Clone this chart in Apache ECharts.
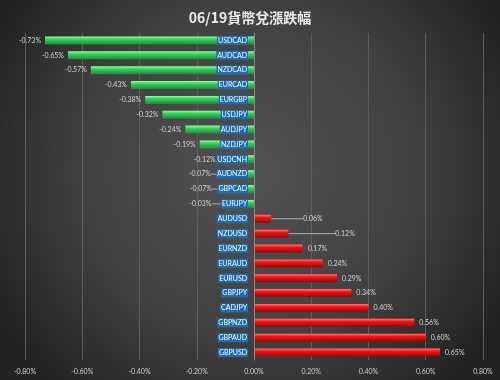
<!DOCTYPE html>
<html>
<head>
<meta charset="utf-8">
<script src="https://cdn.jsdelivr.net/npm/echarts@6/dist/echarts.min.js"></script>
<style>
html,body{margin:0;padding:0;background:#333;}
#chart{width:500px;height:380px;}
</style>
</head>
<body>
<div id="chart"></div>
<script>
// ---- data ----
const title = '06/19貨幣兌漲跌幅';
const categories = ['USDCAD','AUDCAD','NZDCAD','EURCAD','EURGBP','USDJPY','AUDJPY','NZDJPY','USDCNH','AUDNZD','GBPCAD','EURJPY','AUDUSD','NZDUSD','EURNZD','EURAUD','EURUSD','GBPJPY','CADJPY','GBPNZD','GBPAUD','GBPUSD'];
const values = [-0.73,-0.65,-0.57,-0.43,-0.38,-0.32,-0.24,-0.19,-0.12,-0.07,-0.07,-0.03,0.06,0.12,0.17,0.24,0.29,0.34,0.40,0.56,0.60,0.65];
const xTicks = [-0.8,-0.6,-0.4,-0.2,0,0.2,0.4,0.6,0.8];

// label displacement (leader-line labels), styling only
const labelShift = {AUDNZD:-19, GBPCAD:-18, EURJPY:-30, AUDUSD:27, NZDUSD:42};

const greenGrad = new echarts.graphic.LinearGradient(0,0,0,1,[
  {offset:0,color:'#a6f7ac'},{offset:0.35,color:'#36d35a'},{offset:1,color:'#15923a'}]);
const redGrad = new echarts.graphic.LinearGradient(0,0,0,1,[
  {offset:0,color:'#ff7a7a'},{offset:0.35,color:'#f01414'},{offset:1,color:'#a80000'}]);

const seriesData = values.map((v,i)=>({
  value: v,
  itemStyle: {color: v < 0 ? greenGrad : redGrad},
  label: {position: v < 0 ? 'left' : 'right', distance: v < 0 ? 4 : 5},
  labelLine: {show: labelShift[categories[i]] !== undefined}
}));

const gridLeft = 25, gridRight = 17, W = 500;
const zeroShift = (W - gridLeft - gridRight) / 2;

const chart = echarts.init(document.getElementById('chart'), null, {renderer:'canvas'});
chart.setOption({
  animation:false,
  backgroundColor:{type:'radial',x:0.5,y:0.45,r:0.75,colorStops:[
    {offset:0,color:'#525252'},{offset:0.6,color:'#404040'},{offset:1,color:'#232323'}]},
  title:{text:title,left:'center',top:6,textStyle:{color:'#ececec',fontSize:14,fontWeight:'bold',fontFamily:'Noto Sans CJK TC'}},
  grid:{left:gridLeft,right:gridRight,top:33,bottom:20,containLabel:false,outerBoundsMode:'none'},
  xAxis:{type:'value',min:-0.8,max:0.8,interval:0.2,
    axisLine:{show:false},axisTick:{show:false},
    splitLine:{show:true,lineStyle:{color:'#5e5e5e',width:1}},
    axisLabel:{color:'#cfcfcf',fontSize:7,fontFamily:'Lato',margin:8,
      formatter:v=>v.toFixed(2)+'%'}},
  yAxis:{type:'category',data:categories,inverse:true,z:5,offset:-zeroShift,
    axisLine:{onZero:false,show:true,lineStyle:{color:'#8a8a8a',width:1}},
    axisTick:{show:false},
    axisLabel:{color:'#ffffff',fontSize:7,fontFamily:'Lato',margin:6,
      backgroundColor:'#1c6cb8',padding:[1,1,1,1]}},
  series:[{
    type:'bar',data:seriesData,barWidth:8,
    label:{show:true,color:'#d4d4d4',fontSize:7,fontFamily:'Lato',
      formatter:p=>p.value.toFixed(2)+'%'},
    labelLine:{lineStyle:{color:'#b0b0b0',width:1}},
    labelLayout:function(p){
      const c = categories[p.dataIndex];
      if(labelShift[c]!==undefined){return {dx:labelShift[c]};}
      return {};
    }
  }]
});
</script>
</body>
</html>
